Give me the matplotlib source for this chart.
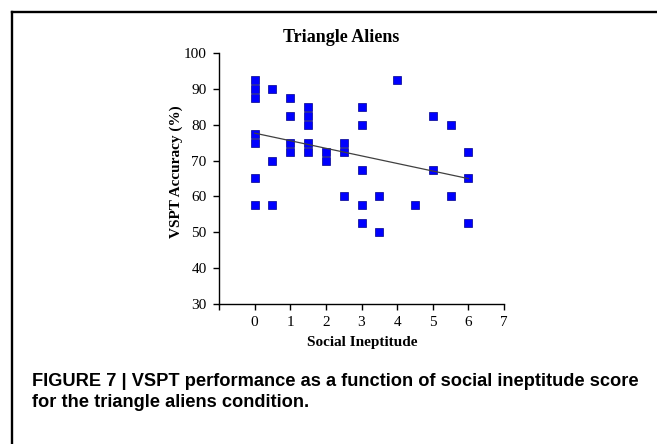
import numpy as np
import matplotlib
matplotlib.use("Agg")
import matplotlib.pyplot as plt
from matplotlib.lines import Line2D

# social ineptitude score and VSPT accuracy (%), one entry per participant
ineptitude = [0, 0, 0, 0, 0, 0, 0,
              0.5, 0.5, 0.5,
              1, 1, 1, 1,
              1.5, 1.5, 1.5, 1.5, 1.5,
              2, 2,
              2.5, 2.5, 2.5,
              3, 3, 3, 3, 3,
              3.5, 3.5,
              4,
              4.5,
              5, 5,
              5.5, 5.5,
              6, 6, 6]
accuracy = [92.5, 90, 87.5, 77.5, 75, 65, 57.5,
            90, 70, 57.5,
            87.5, 82.5, 75, 72.5,
            85, 82.5, 80, 75, 72.5,
            72.5, 70,
            75, 72.5, 60,
            85, 80, 67.5, 57.5, 52.5,
            60, 50,
            92.5,
            57.5,
            82.5, 67.5,
            80, 60,
            72.5, 65, 52.5]

x_ticks = [0, 1, 2, 3, 4, 5, 6, 7]
y_ticks = [30, 40, 50, 60, 70, 80, 90, 100]

serif = ["Liberation Serif", "DejaVu Serif"]

fig = plt.figure(figsize=(6.57, 4.44), dpi=100)
ax = fig.add_axes([219 / 657, 1 - 304 / 444, 285 / 657, 251 / 444])

ax.plot(ineptitude, accuracy, "s", color="#0000ff", markersize=6.3,
        markeredgecolor="#00008b", markeredgewidth=0.5, zorder=2)

# linear trend line
slope, icpt = np.polyfit(ineptitude, accuracy, 1)
xs = np.array([0, 6])
ax.plot(xs, icpt + slope * xs, color="#404040", linewidth=0.9, zorder=3)

ax.set_xlim(-1, 7)
ax.set_ylim(30, 100)
ax.set_xticks([-1] + x_ticks)
ax.set_xticklabels([""] + [str(t) for t in x_ticks])
ax.set_yticks(y_ticks)
for s in ["top", "right"]:
    ax.spines[s].set_visible(False)
for s in ["left", "bottom"]:
    ax.spines[s].set_linewidth(1.0)
ax.tick_params(direction="out", length=4, width=1.0, pad=5, labelsize=11)
for lab in ax.get_xticklabels() + ax.get_yticklabels():
    lab.set_family(serif)

fig.text(341 / 657, 1 - 37 / 444, "Triangle Aliens", family=serif,
         fontsize=13, fontweight="bold", ha="center", va="center")
fig.text(362 / 657, 1 - 342 / 444, "Social Ineptitude", family=serif,
         fontsize=11, fontweight="bold", ha="center", va="center")
fig.text(176 / 657, 1 - 172 / 444, "VSPT Accuracy (%)", family=serif,
         fontsize=11, fontweight="bold", ha="center", va="center", rotation=90)

# caption
cap_font = ["Liberation Sans", "DejaVu Sans"]
fig.text(32 / 657, 1 - 381 / 444,
         "FIGURE 7 | VSPT performance as a function of social ineptitude score",
         family=cap_font, fontsize=13.15, fontweight="bold", ha="left", va="center")
fig.text(32 / 657, 1 - 402 / 444, "for the triangle aliens condition.",
         family=cap_font, fontsize=13.15, fontweight="bold", ha="left", va="center")

# frame around the figure panel
fig.add_artist(Line2D([12 / 657, 1], [1 - 12 / 444, 1 - 12 / 444],
                      color="black", linewidth=1.7, transform=fig.transFigure))
fig.add_artist(Line2D([12 / 657, 12 / 657], [0, 1 - 12 / 444],
                      color="black", linewidth=1.7, transform=fig.transFigure))

fig.savefig("out.png", dpi=100)
